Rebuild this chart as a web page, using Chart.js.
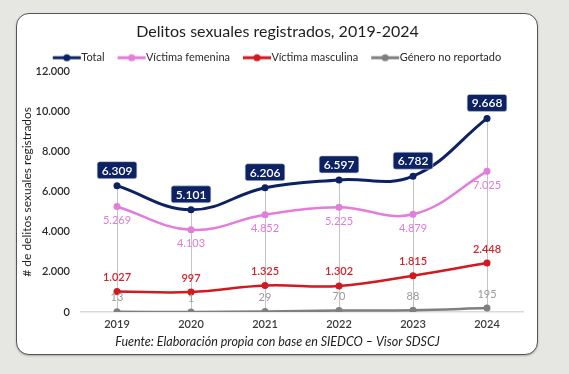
<!DOCTYPE html>
<html><head><meta charset="utf-8">
<script src="https://cdn.jsdelivr.net/npm/chart.js@4.4.1/dist/chart.umd.min.js"></script>
<style>
html,body{margin:0;padding:0;width:569px;height:374px;overflow:hidden;background:#e6e6e2;}
#card{position:absolute;left:16px;top:13px;width:520px;height:340px;background:#fff;border:1.5px solid #555;border-radius:13px;box-shadow:0 1px 2px rgba(0,0,0,.25);}
#wrap{position:absolute;left:0;top:0;width:569px;height:374px;}
</style></head><body>
<div id="card"></div>
<div id="wrap"><canvas id="c" width="569" height="374"></canvas></div>
<script>
// ---- data ----
const years = ['2019','2020','2021','2022','2023','2024'];
const total = [6309,5101,6206,6597,6782,9668];
const femenina = [5269,4103,4852,5225,4879,7025];
const masculina = [1027,997,1325,1302,1815,2448];
const noReportado = [13,1,29,70,88,195];
const seriesNames = ['Total','Víctima femenina','Víctima masculina','Género no reportado'];
const yTicksMax = 12000, yTickStep = 2000;
const chartTitle = 'Delitos sexuales registrados, 2019-2024';
const yTitle = '# de delitos sexuales registrados';
const sourceText = 'Fuente: Elaboración propia con base en SIEDCO – Visor SDSCJ';

// ---- styles ----
const FONT = 'Lato';
const colors = ['#0c2262','#e27ddb','#d1191f','#7f7f7f'];
const labelColors = ['#ffffff','#e07ad8','#d3222a','#9a9a9a'];
const labelPos = ['box','below','above','above'];
const fmt = n => String(n).replace(/\B(?=(\d{3})+(?!\d))/g,'.');

function legendIcon(color){
  const c = document.createElement('canvas');
  c.width = 44; c.height = 10;
  const g = c.getContext('2d');
  g.strokeStyle = color; g.lineWidth = 3; g.lineCap='butt';
  g.beginPath(); g.moveTo(10,5); g.lineTo(38,5); g.stroke();
  g.fillStyle = color; g.beginPath(); g.arc(24,5,3.5,0,Math.PI*2); g.fill();
  return c;
}
const icons = colors.map(legendIcon);

const dropLines = {
  id:'dropLines',
  beforeDatasetsDraw(chart){
    const {ctx, scales:{x,y}} = chart;
    ctx.save();
    ctx.strokeStyle = '#c4c4c4'; ctx.lineWidth = 1;
    total.forEach((v,i)=>{
      const px = Math.round(x.getPixelForValue(i))+0.5;
      ctx.beginPath(); ctx.moveTo(px, y.getPixelForValue(v)); ctx.lineTo(px, y.getPixelForValue(0)); ctx.stroke();
    });
    ctx.restore();
  }
};

const dataLabels = {
  id:'dataLabels',
  afterDatasetsDraw(chart){
    const ctx = chart.ctx;
    ctx.save();
    chart.data.datasets.forEach((ds,di)=>{
      const meta = chart.getDatasetMeta(di);
      meta.data.forEach((pt,i)=>{
        const txt = fmt(ds.data[i]);
        ctx.textAlign='center'; ctx.textBaseline='middle';
        if(labelPos[di]==='box'){
          ctx.font = `600 12px ${FONT}`;
          const w = ctx.measureText(txt).width + 9, h = 17;
          const cx = pt.x, cy = pt.y - 15.5;
          ctx.fillStyle = colors[0];
          ctx.beginPath();
          if (ctx.roundRect) ctx.roundRect(cx-w/2, cy-h/2, w, h, 2.5); else ctx.rect(cx-w/2, cy-h/2, w, h);
          ctx.fill();
          ctx.strokeStyle='#c9d0e0'; ctx.lineWidth=0.6; ctx.stroke();
          ctx.fillStyle = '#fff';
          ctx.fillText(txt, cx, cy+0.5);
        } else {
          ctx.font = (di===2? '600 ':'') + `11px ${FONT}`;
          ctx.fillStyle = labelColors[di];
          const dy = labelPos[di]==='below' ? 14 : -14;
          ctx.fillText(txt, pt.x, pt.y+dy);
        }
      });
    });
    ctx.restore();
  }
};

const mk = (i, data, bw) => ({
  label: seriesNames[i], data,
  borderColor: colors[i], backgroundColor: colors[i],
  borderWidth: bw, pointRadius: 3.5, pointHoverRadius: 3.5,
  pointBackgroundColor: colors[i], pointBorderColor: colors[i], pointBorderWidth: 0,
  tension: 0.4, fill:false
});

new Chart(document.getElementById('c'), {
  type:'line',
  data:{
    labels: years,
    datasets:[ mk(0,total,3), mk(1,femenina,2.5), mk(2,masculina,2.5), mk(3,noReportado,2.5) ]
  },
  options:{
    responsive:false, animation:false, devicePixelRatio:1,
    layout:{padding:{left:0,right:14,top:0,bottom:0}},
    plugins:{
      tooltip:{enabled:false},
      title:{display:true, text:chartTitle, color:'#1e1e1e',
        font:{family:FONT,size:16,weight:'normal'}, padding:{top:22,bottom:-3}},
      subtitle:{display:true, position:'bottom', text:sourceText, color:'#1e1e1e',
        font:{family:FONT,size:12.5,style:'italic'}, padding:{top:0.5,bottom:24.5}},
      legend:{display:true, position:'top', maxHeight:33.5,
        labels:{usePointStyle:true, pointStyleWidth:22, boxHeight:10, padding:14,
          color:'#2b2b2b', font:{family:FONT,size:11},
          generateLabels(chart){
            const items = Chart.defaults.plugins.legend.labels.generateLabels(chart);
            items.forEach((it,i)=>{ it.pointStyle = icons[i]; });
            return items;
          }}}
    },
    scales:{
      x:{
        offset:true,
        grid:{display:false, drawTicks:false},
        border:{display:false},
        ticks:{color:'#3a3a3a', font:{family:FONT,size:11,weight:'600'}, padding:6},
        afterFit(s){ s.height = 22; }
      },
      y:{
        min:0, max:yTicksMax,
        grid:{drawTicks:false, color:c=>c.tick && c.tick.value===0 ? '#d9d9d9':'rgba(0,0,0,0)', lineWidth:1.5},
        border:{display:false},
        ticks:{stepSize:yTickStep, padding:10, color:'#2b2b2b',
          font:{family:FONT,size:11,weight:'600'}, callback:v=>fmt(v)},
        title:{display:true, text:yTitle, color:'#1e1e1e',
          font:{family:FONT,size:12,weight:'normal'}, padding:{top:20,bottom:0}},
        afterFit(s){ s.width = 80; }
      },
      y2:{
        type:'linear', position:'right', display:true,
        grid:{display:false, drawTicks:false}, border:{display:false},
        ticks:{display:false},
        afterFit(s){ s.width = 31; }
      }
    }
  },
  plugins:[dropLines, dataLabels]
});
</script>
</body></html>
